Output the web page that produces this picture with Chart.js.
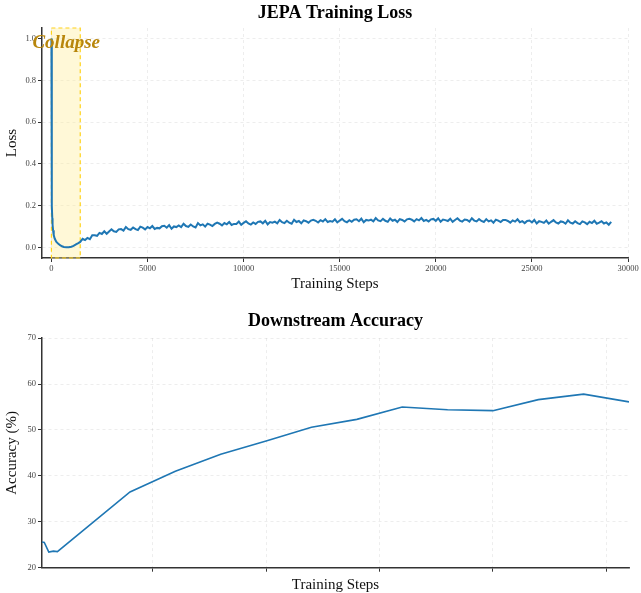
<!DOCTYPE html>
<html>
<head>
<meta charset="utf-8">
<script src="https://cdn.jsdelivr.net/npm/chart.js@4.4.1/dist/chart.umd.min.js"></script>
<style>
html, body { margin: 0; padding: 0; background: #fff; overflow: hidden; }
#wrap { position: relative; width: 641px; height: 593px; overflow: hidden; }
#loss-canvas { position: absolute; left: 0; top: 0; }
#acc-canvas { position: absolute; left: 0; top: 300px; }
</style>
</head>
<body>
<div id="wrap">
  <canvas id="loss-canvas" width="641" height="300"></canvas>
  <canvas id="acc-canvas" width="641" height="310"></canvas>
</div>
<script>
// Loss curve: the steep drop during the first 1500 steps
const earlySteps = [0, 10, 20, 30, 45, 60, 85, 120, 170, 250, 345, 450, 550, 650, 780, 900, 1040, 1150, 1300, 1400, 1500];
const earlyLoss = [1.0, 0.6, 0.33, 0.2, 0.14, 0.11, 0.083, 0.06, 0.043, 0.028, 0.019, 0.011, 0.006, 0.003, 0.001, 0.001, 0.004, 0.008, 0.016, 0.021, 0.027];

// after that the loss is logged every 125 steps, starting at step 1625
const logStart = 1625;
const logEvery = 125;
const loggedLoss = [
  0.042, 0.036, 0.046, 0.040, 0.059, 0.059, 0.056, 0.070,
  0.065, 0.078, 0.066, 0.077, 0.087, 0.078, 0.075, 0.087,
  0.088, 0.081, 0.098, 0.088, 0.085, 0.096, 0.088, 0.084,
  0.100, 0.095, 0.087, 0.098, 0.092, 0.103, 0.089, 0.094,
  0.092, 0.102, 0.104, 0.095, 0.107, 0.090, 0.101, 0.098,
  0.106, 0.098, 0.114, 0.103, 0.099, 0.110, 0.101, 0.096,
  0.117, 0.106, 0.111, 0.100, 0.114, 0.110, 0.103, 0.113,
  0.119, 0.114, 0.106, 0.117, 0.111, 0.122, 0.108, 0.113,
  0.113, 0.124, 0.109, 0.118, 0.126, 0.115, 0.110, 0.120,
  0.113, 0.123, 0.125, 0.116, 0.128, 0.111, 0.122, 0.119,
  0.124, 0.116, 0.132, 0.121, 0.117, 0.128, 0.119, 0.114,
  0.133, 0.122, 0.127, 0.116, 0.130, 0.126, 0.119, 0.129,
  0.133, 0.128, 0.120, 0.131, 0.125, 0.136, 0.122, 0.127,
  0.124, 0.135, 0.120, 0.129, 0.137, 0.126, 0.121, 0.131,
  0.123, 0.133, 0.135, 0.126, 0.138, 0.121, 0.132, 0.129,
  0.133, 0.125, 0.141, 0.130, 0.126, 0.137, 0.128, 0.123,
  0.139, 0.128, 0.133, 0.122, 0.136, 0.132, 0.125, 0.135,
  0.138, 0.133, 0.125, 0.136, 0.130, 0.141, 0.127, 0.132,
  0.125, 0.135, 0.137, 0.128, 0.140, 0.123, 0.134, 0.131,
  0.127, 0.138, 0.123, 0.132, 0.140, 0.129, 0.124, 0.134,
  0.132, 0.124, 0.140, 0.129, 0.125, 0.136, 0.127, 0.122,
  0.136, 0.125, 0.130, 0.119, 0.133, 0.129, 0.122, 0.132,
  0.132, 0.127, 0.119, 0.130, 0.124, 0.135, 0.121, 0.126,
  0.117, 0.127, 0.129, 0.120, 0.132, 0.115, 0.126, 0.123,
  0.118, 0.129, 0.114, 0.123, 0.131, 0.120, 0.115, 0.125,
  0.122, 0.114, 0.130, 0.119, 0.115, 0.126, 0.117, 0.112,
  0.125, 0.120, 0.112, 0.123, 0.117, 0.128, 0.114, 0.119,
  0.126, 0.115, 0.120, 0.109, 0.123
];

const lossXTicks = [0, 5000, 10000, 15000, 20000, 25000, 30000];
const lossYTicks = [0.0, 0.2, 0.4, 0.6, 0.8, 1.0];

const collapseStart = 0;
const collapseEnd = 1500;

// Downstream eval
const evalSteps = [120, 220, 420, 620, 800, 4000, 6000, 8000, 10000, 12000, 14000, 16000, 18000, 20000, 22000, 24000, 26000];
const accuracy = [25.6, 25.5, 23.4, 23.6, 23.5, 36.5, 41.0, 44.7, 47.6, 50.6, 52.3, 55.0, 54.4, 54.2, 56.6, 57.8, 56.1];

const accXTicks = [5000, 10000, 15000, 20000, 25000];
const accYTicks = [20, 30, 40, 50, 60, 70];

const SERIF = "'Liberation Serif', 'Times New Roman', serif";
const LINE_BLUE = '#1f77b4';

const lossPoints = earlySteps.map((s, i) => ({ x: s, y: earlyLoss[i] }))
  .concat(loggedLoss.map((v, i) => ({ x: logStart + i * logEvery, y: v })));

const accPoints = evalSteps.map((s, i) => ({ x: s, y: accuracy[i] }));

function fixTicks(values) {
  return scale => { scale.ticks = values.map(v => ({ value: v })); };
}

function axis(opts) {
  return {
    type: 'linear',
    min: opts.min,
    max: opts.max,
    afterBuildTicks: fixTicks(opts.ticks),
    afterFit: opts.afterFit,
    grid: {
      color: 'rgba(0, 0, 0, 0.09)',
      lineWidth: 0.8,
      drawTicks: true,
      tickLength: 4,
      tickColor: '#333',
      tickWidth: 1
    },
    border: { display: true, color: '#333', width: 1.5, dash: [3, 3] },
    ticks: {
      display: opts.showLabels !== false,
      color: '#444',
      padding: 2,
      font: { family: SERIF, size: 8.5 },
      maxRotation: 0,
      autoSkip: false,
      callback: opts.fmt || (v => v)
    },
    title: {
      display: true,
      text: opts.title,
      color: '#111',
      font: { family: SERIF, size: 15 },
      padding: opts.titlePad
    }
  };
}

// shaded collapse window with the label on top
const collapseZone = {
  id: 'collapseZone',
  beforeDatasetsDraw(chart) {
    const { ctx, chartArea, scales } = chart;
    const x0 = scales.x.getPixelForValue(collapseStart);
    const x1 = scales.x.getPixelForValue(collapseEnd);
    ctx.save();
    ctx.fillStyle = 'rgba(255, 236, 150, 0.38)';
    ctx.fillRect(x0, chartArea.top, x1 - x0, chartArea.bottom - chartArea.top);
    ctx.setLineDash([4, 3]);
    ctx.strokeStyle = '#ffd21a';
    ctx.lineWidth = 1.2;
    ctx.strokeRect(x0, chartArea.top, x1 - x0, chartArea.bottom - chartArea.top);
    ctx.restore();
  },
  afterDatasetsDraw(chart) {
    const { ctx, scales } = chart;
    ctx.save();
    ctx.font = "italic bold 19px " + SERIF;
    ctx.fillStyle = '#b8860b';
    ctx.textAlign = 'center';
    ctx.textBaseline = 'middle';
    ctx.fillText('Collapse', scales.x.getPixelForValue(770), scales.y.getPixelForValue(0.977));
    ctx.restore();
  }
};

new Chart(document.getElementById('loss-canvas').getContext('2d'), {
  type: 'line',
  data: {
    datasets: [{
      data: lossPoints,
      borderColor: LINE_BLUE,
      borderWidth: 2,
      pointRadius: 0,
      tension: 0,
      fill: false
    }]
  },
  options: {
    responsive: false,
    animation: false,
    layout: { padding: { left: 0, right: 13, top: 0, bottom: 0 } },
    plugins: {
      legend: { display: false },
      tooltip: { enabled: false },
      title: {
        display: true,
        fullSize: false,
        text: 'JEPA Training Loss',
        color: '#000',
        font: { family: SERIF, size: 18, weight: 'bold' },
        padding: { top: 2.5, bottom: 3.9 }
      }
    },
    scales: {
      x: axis({
        min: -490, max: 30000, ticks: lossXTicks, title: 'Training Steps',
        titlePad: { top: 0, bottom: 7 },
        afterFit: s => { s.height = 42; }
      }),
      y: axis({
        min: -0.05, max: 1.05, ticks: lossYTicks, title: 'Loss',
        fmt: v => v.toFixed(1),
        titlePad: { top: 3, bottom: 0 },
        afterFit: s => { s.width = 42; }
      })
    }
  },
  plugins: [collapseZone]
});

new Chart(document.getElementById('acc-canvas').getContext('2d'), {
  type: 'line',
  data: {
    datasets: [{
      data: accPoints,
      borderColor: LINE_BLUE,
      borderWidth: 1.6,
      pointRadius: 0,
      tension: 0,
      fill: false
    }]
  },
  options: {
    responsive: false,
    animation: false,
    layout: { padding: { left: 0, right: 12, top: 0, bottom: 0 } },
    plugins: {
      legend: { display: false },
      tooltip: { enabled: false },
      title: {
        display: true,
        fullSize: false,
        text: 'Downstream Accuracy',
        color: '#000',
        font: { family: SERIF, size: 18, weight: 'bold' },
        padding: { top: 10.5, bottom: 6 }
      }
    },
    scales: {
      x: axis({
        min: 120, max: 26000, ticks: accXTicks, title: 'Training Steps',
        showLabels: false,
        titlePad: { top: 0, bottom: 15.5 },
        afterFit: s => { s.height = 42.3; }
      }),
      y: axis({
        min: 20, max: 70, ticks: accYTicks, title: 'Accuracy (%)',
        titlePad: { top: 3, bottom: 0 },
        afterFit: s => { s.width = 42; }
      })
    }
  }
});
</script>
</body>
</html>
